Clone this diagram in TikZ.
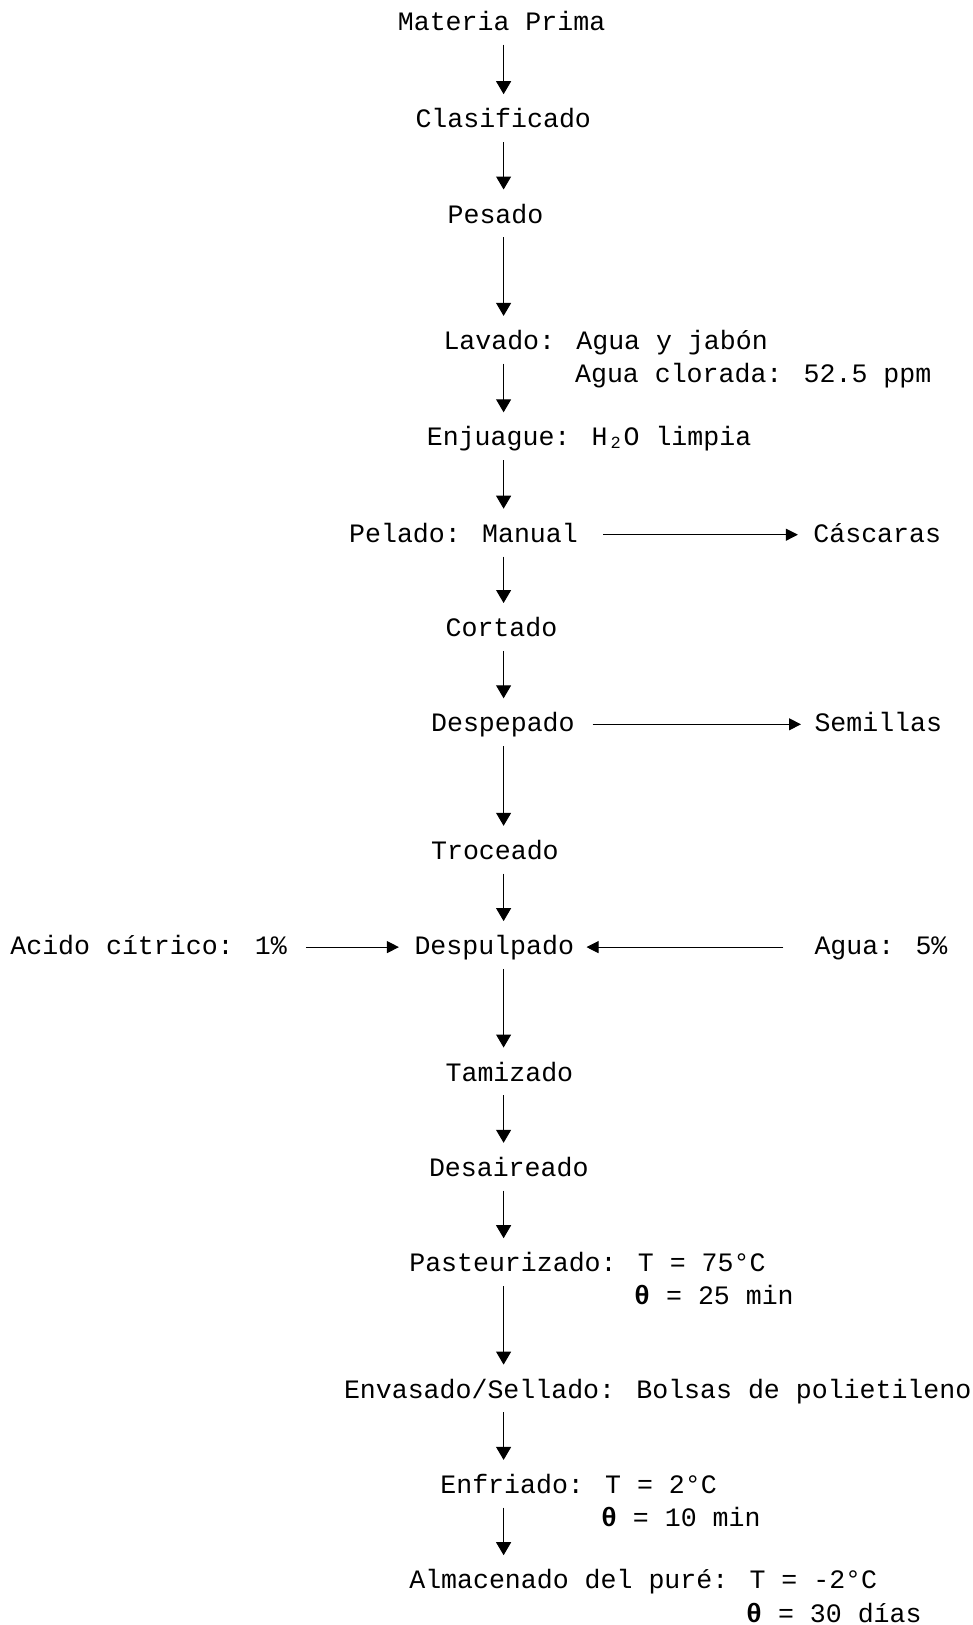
\documentclass[tikz,border=0pt]{standalone}
\usepackage{fontspec}
\setmainfont{Liberation Mono}
\usetikzlibrary{arrows.meta}
\newcommand{\thet}{\textbf{θ}}
\newcommand{\subtwo}{\makebox[0.6em]{\raisebox{-3pt}{\fontsize{17}{17}\selectfont 2}}}
\begin{document}
\begin{tikzpicture}[x=1pt,y=1pt,
  lbl/.style={anchor=west, inner sep=0pt, outer sep=0pt, text height=15.2pt, text depth=0pt,
    font=\fontsize{26.58}{30}\selectfont},
  varr/.style={line width=1pt, -{Triangle[width=15pt,length=13pt]}, shorten <=14.2pt, shorten >=18.4pt},
  harr/.style={line width=1pt, -{Triangle[width=12pt,length=12pt]}}]
\useasboundingbox (0,0) rectangle (973,-1625);
\coordinate (ax) at (503.6,0);
% main column
\node[lbl] (mp)   at (397.9,-22.8)  {Materia Prima};
\node[lbl] (cla)  at (415.5,-120.2) {Clasificado};
\node[lbl] (pes)  at (447.6,-215.5) {Pesado};
\node[lbl] (lav)  at (443.5,-341.9) {Lavado: Agua y jabón};
\node[lbl] (lav2) at (575.1,-375.1) {Agua clorada: 52.5 ppm};
\node[lbl] (enj)  at (426.9,-438.3) {Enjuague: H\subtwo O limpia};
\node[lbl] (pel)  at (349.2,-534.7) {Pelado: Manual};
\node[lbl] (cas)  at (813.4,-534.7) {Cáscaras};
\node[lbl] (cor)  at (445.6,-629.0) {Cortado};
\node[lbl] (dpp)  at (431.1,-724.3) {Despepado};
\node[lbl] (sem)  at (814.5,-724.3) {Semillas};
\node[lbl] (tro)  at (431.1,-851.8) {Troceado};
\node[lbl] (dpu)  at (414.5,-947.1) {Despulpado};
\node[lbl] (aci)  at (10.4,-947.1)  {Acido cítrico: 1\%};
\node[lbl] (agu)  at (814.5,-947.1) {Agua: 5\%};
\node[lbl] (tam)  at (445.6,-1073.5) {Tamizado};
\node[lbl] (des)  at (429.0,-1168.8) {Desaireado};
\node[lbl] (pas)  at (409.3,-1264.2) {Pasteurizado: T = 75°C};
\node[lbl] (pas2) at (634.2,-1297.3) {\thet{} = 25 min};
\node[lbl] (env)  at (344.0,-1390.6) {Envasado/Sellado: Bolsas de polietileno};
\node[lbl] (enf)  at (440.4,-1485.9) {Enfriado: T = 2°C};
\node[lbl] (enf2) at (601.0,-1519.1) {\thet{} = 10 min};
\node[lbl] (alm)  at (409.3,-1581.2) {Almacenado del puré: T = -2°C};
\node[lbl] (alm2) at (746.1,-1614.4) {\thet{} = 30 días};
% vertical arrows
\foreach \a/\b in {mp/cla, cla/pes, pes/lav, lav/enj, enj/pel, pel/cor, cor/dpp, dpp/tro,
                   tro/dpu, dpu/tam, tam/des, des/pas, pas/env, env/enf, enf/alm}
  \draw[varr] (\a.south -| ax) -- (\b.north -| ax);
% horizontal arrows
\draw[harr, shorten <=25.4pt, shorten >=15.5pt] (pel.east) -- (cas.west);
\draw[harr, shorten <=18pt, shorten >=13.5pt] (dpp.east) -- (sem.west);
\draw[harr, shorten <=18.9pt, shorten >=15.6pt] (aci.east) -- (dpu.west);
\draw[harr, shorten <=31.1pt, shorten >=12.5pt] (agu.west) -- (dpu.east);
\end{tikzpicture}
\end{document}
